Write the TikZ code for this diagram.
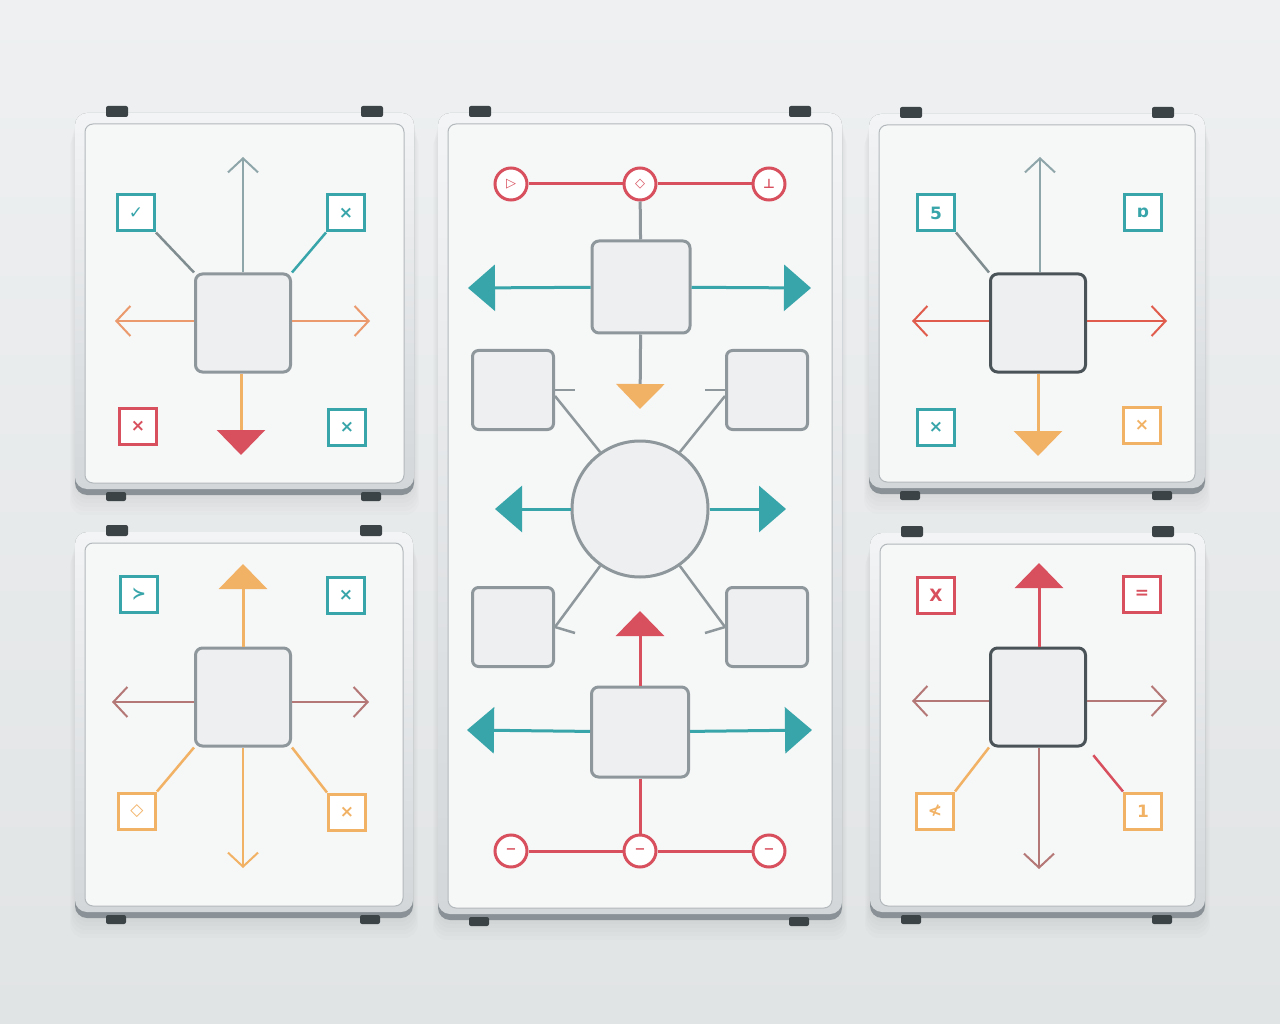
\documentclass[tikz,border=0pt]{standalone}
\usepackage{fontspec}
\usetikzlibrary{arrows.meta}
\newfontfamily\glyphfont{DejaVu Sans}

\definecolor{bgtop}{HTML}{EEF0F1}
\definecolor{bgbot}{HTML}{E1E4E5}
\definecolor{framelight}{HTML}{F3F4F5}
\definecolor{framemid}{HTML}{D3D7DA}
\definecolor{framedark}{HTML}{8A9297}
\definecolor{boardwhite}{HTML}{F6F7F7}
\definecolor{boardedge}{HTML}{B2B8BB}
\definecolor{clipdark}{HTML}{3C4347}
\definecolor{hubgray}{HTML}{8E979B}
\definecolor{hubdark}{HTML}{4A5358}
\definecolor{hubfill}{HTML}{EEEFF0}
\definecolor{iteal}{HTML}{38A5AA}
\definecolor{ired}{HTML}{D8505E}
\definecolor{iorange}{HTML}{F2B265}
\definecolor{icoral}{HTML}{EA9A6C}
\definecolor{ivermil}{HTML}{E05C4C}
\definecolor{imauve}{HTML}{B47876}
\definecolor{igrayteal}{HTML}{8EA6A9}
\definecolor{ispoke}{HTML}{7F8C90}

\begin{document}
\begin{tikzpicture}[x=1pt,y=-1pt,
  hub/.style={draw=hubgray,fill=hubfill,line width=3pt,rounded corners=7pt,minimum width=95pt,minimum height=98pt},
  cell/.style={draw=hubgray,fill=hubfill,line width=3pt,rounded corners=6pt,minimum width=81pt,minimum height=79pt},
  tag/.style={draw=#1,text=#1,fill=white,line width=3pt,minimum width=37pt,minimum height=36pt,inner sep=0pt,
    font=\glyphfont\bfseries\fontsize{17}{17}\selectfont},
  ring/.style={circle,draw=ired,text=ired,fill=white,line width=3pt,minimum size=32pt,inner sep=0pt,
    font=\glyphfont\bfseries\fontsize{13}{13}\selectfont},
  spoke/.style={line width=2.5pt},
  barb/.style={line width=2pt,-{Straight Barb[length=14pt,width=30pt]}},
  wedge/.style={line width=3pt,-{Triangle[length=25pt,width=48pt,color=#1]}},
  flag/.style={line width=3pt,-{Triangle[length=27pt,width=46pt,color=#1]}}]
  \useasboundingbox (0,0) rectangle (1280,1024);
  \shade[top color=bgtop,bottom color=bgbot] (0,0) rectangle (1280,1024);

  % boards
  \foreach \xa/\ya/\xb/\yb in {75/113/414/495, 438/113/842/920, 869/114/1205/494, 75/532/413/918, 870/533/1205/918} {
    \foreach \s in {4,8,12,16,20}
      \fill[black,opacity=.012,rounded corners=14pt] (\xa-\s/4,\ya+\s) rectangle (\xb+\s/4,\yb+\s);
    \fill[framedark,rounded corners=12pt] (\xa,\ya) rectangle (\xb,\yb);
    \shade[top color=framelight,bottom color=framemid,rounded corners=12pt] (\xa,\ya) rectangle (\xb,\yb-6);
    \filldraw[fill=boardwhite,draw=boardedge,line width=1pt,rounded corners=8pt] (\xa+10,\ya+11) rectangle (\xb-10,\yb-12);
    \foreach \cx in {\xa+31,\xb-53} {
      \fill[clipdark,rounded corners=2pt] (\cx,\ya-7) rectangle ++(22,11);
      \fill[clipdark,rounded corners=2pt] (\cx,\yb-3) rectangle ++(20,9);
    }
  }

  % top left board
  \node[hub] (a0) at (243,323) {};
  \node[tag=iteal] (a1) at (136,213) {✓};
  \node[tag=iteal] (a2) at (346,213) {×};
  \node[tag=ired] (a3) at (138,426) {×};
  \node[tag=iteal] (a4) at (347,427) {×};
  \draw[spoke,ispoke] (a1.south east) -- (a0.north west);
  \draw[spoke,iteal] (a2.south west) -- (a0.north east);
  \coordinate (a0n) at (243,157);
  \coordinate (a0w) at (115,321);
  \coordinate (a0e) at (370,321);
  \coordinate (a0s) at (241,455);
  \draw[barb,igrayteal] (a0) -- (a0n);
  \draw[barb,icoral] (a0.west |- a0w) -- (a0w);
  \draw[barb,icoral] (a0.east |- a0e) -- (a0e);
  \draw[wedge=ired,iorange] (a0.south -| a0s) -- (a0s);

  % centre board
  \node[ring] (b1) at (511,184) {▷};
  \node[ring] (b2) at (640,184) {◇};
  \node[ring] (b3) at (769,184) {⊥};
  \draw[line width=3pt,ired] (b1) -- (b2) -- (b3);
  \node[hub,minimum width=98pt,minimum height=92pt] (b4) at (641,287) {};
  \draw[line width=3pt,hubgray] (b2) -- (b4);
  \coordinate (b4w) at (468,288);
  \coordinate (b4e) at (811,288);
  \coordinate (b4s) at (640,409);
  \draw[flag=iteal,iteal] (b4) -- (b4w);
  \draw[flag=iteal,iteal] (b4) -- (b4e);
  \draw[wedge=iorange,hubgray] (b4) -- (b4s);
  \node[cell] (b5) at (513,390) {};
  \node[cell] (b6) at (767,390) {};
  \node[circle,draw=hubgray,fill=hubfill,line width=3pt,minimum size=136pt] (b7) at (640,509) {};
  \node[cell] (b8) at (513,627) {};
  \node[cell] (b9) at (767,627) {};
  \draw[spoke,hubgray] (b5.east) -- ++(20,0);
  \draw[spoke,hubgray] ([yshift=-6pt]b5.east) -- (b7.125);
  \draw[spoke,hubgray] (b6.west) -- ++(-20,0);
  \draw[spoke,hubgray] ([yshift=-6pt]b6.west) -- (b7.55);
  \draw[spoke,hubgray] (b8.east) -- ++(20,6);
  \draw[spoke,hubgray] (b8.east) -- (b7.235);
  \draw[spoke,hubgray] (b9.west) -- ++(-20,6);
  \draw[spoke,hubgray] (b9.west) -- (b7.305);
  \coordinate (b7w) at (495,509);
  \coordinate (b7e) at (786,509);
  \draw[flag=iteal,iteal] (b7) -- (b7w);
  \draw[flag=iteal,iteal] (b7) -- (b7e);
  \node[hub,minimum width=97pt,minimum height=90pt] (b10) at (640,732) {};
  \coordinate (b10n) at (640,611);
  \coordinate (b10w) at (467,730);
  \coordinate (b10e) at (812,730);
  \draw[wedge=ired,ired] (b10) -- (b10n);
  \draw[flag=iteal,iteal] (b10) -- (b10w);
  \draw[flag=iteal,iteal] (b10) -- (b10e);
  \node[ring] (b11) at (511,851) {−};
  \node[ring] (b12) at (640,851) {−};
  \node[ring] (b13) at (769,851) {−};
  \draw[line width=3pt,ired] (b11) -- (b12) -- (b13);
  \draw[line width=3pt,ired] (b10) -- (b12);

  % top right board
  \node[hub,draw=hubdark] (c0) at (1038,323) {};
  \node[tag=iteal] (c1) at (936,213) {5};
  \node[tag=iteal] (c2) at (1143,213) {ɒ};
  \node[tag=iteal] (c3) at (936,427) {×};
  \node[tag=iorange] (c4) at (1142,425) {×};
  \draw[spoke,ispoke] (c1.south east) -- (c0.north west);
  \coordinate (c0n) at (1040,157);
  \coordinate (c0w) at (912,321);
  \coordinate (c0e) at (1167,321);
  \coordinate (c0s) at (1038,456);
  \draw[barb,igrayteal] (c0.north -| c0n) -- (c0n);
  \draw[barb,ivermil] (c0.west |- c0w) -- (c0w);
  \draw[barb,ivermil] (c0.east |- c0e) -- (c0e);
  \draw[wedge=iorange,iorange] (c0) -- (c0s);

  % bottom left board
  \node[hub] (d0) at (243,697) {};
  \node[tag=iteal] (d1) at (139,594) {≻};
  \node[tag=iteal] (d2) at (346,595) {×};
  \node[tag=iorange] (d3) at (137,811) {◇};
  \node[tag=iorange] (d4) at (347,812) {×};
  \draw[spoke,iorange] (d3.north east) -- (d0.south west);
  \draw[spoke,iorange] (d4.north west) -- (d0.south east);
  \coordinate (d0n) at (243,564);
  \coordinate (d0w) at (112,702);
  \coordinate (d0e) at (369,702);
  \coordinate (d0s) at (243,868);
  \draw[wedge=iorange,iorange] (d0) -- (d0n);
  \draw[barb,imauve] (d0.west |- d0w) -- (d0w);
  \draw[barb,imauve] (d0.east |- d0e) -- (d0e);
  \draw[barb,iorange] (d0) -- (d0s);

  % bottom right board
  \node[hub,draw=hubdark] (e0) at (1038,697) {};
  \node[tag=ired] (e1) at (936,595) {X};
  \node[tag=ired] (e2) at (1142,594) {=};
  \node[tag=iorange] (e3) at (935,811) {≮};
  \node[tag=iorange] (e4) at (1143,811) {1};
  \draw[spoke,iorange] (e3.north east) -- (e0.south west);
  \draw[spoke,ired,shorten >=10pt] (e4.north west) -- (e0.south east);
  \coordinate (e0n) at (1039,563);
  \coordinate (e0w) at (912,701);
  \coordinate (e0e) at (1167,701);
  \coordinate (e0s) at (1039,869);
  \draw[wedge=ired,ired] (e0.north -| e0n) -- (e0n);
  \draw[barb,imauve] (e0.west |- e0w) -- (e0w);
  \draw[barb,imauve] (e0.east |- e0e) -- (e0e);
  \draw[barb,imauve] (e0.south -| e0s) -- (e0s);
\end{tikzpicture}
\end{document}
